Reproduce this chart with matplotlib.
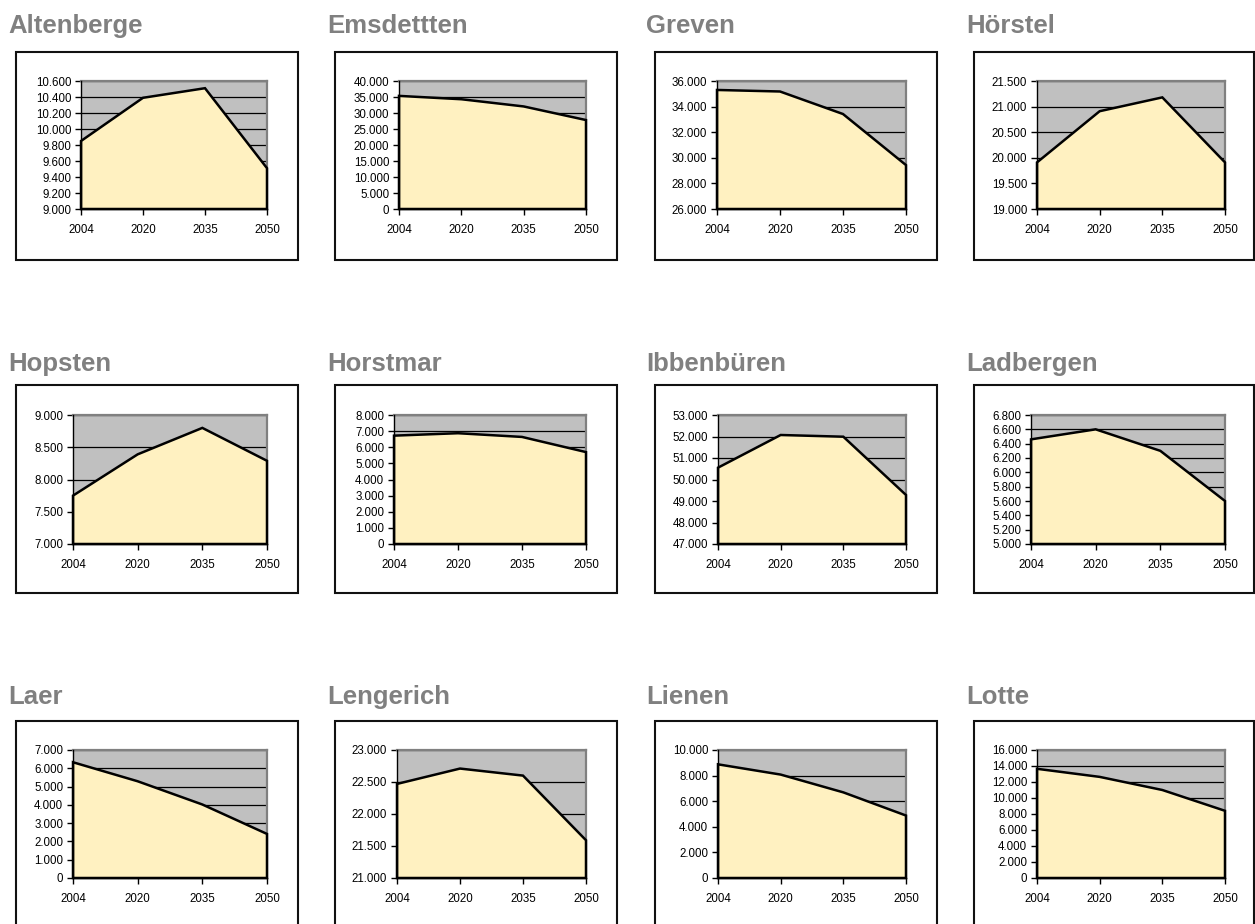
import matplotlib
matplotlib.use('Agg')
import numpy as np
from matplotlib import pyplot as plt
from matplotlib.patches import Rectangle
from matplotlib.ticker import FuncFormatter, MultipleLocator

plt.rcParams['font.family'] = ['Liberation Sans', 'DejaVu Sans']

W, H = 1255, 924

years = ['2004', '2020', '2035', '2050']

towns = ['Altenberge', 'Emsdettten', 'Greven', 'Hörstel',
         'Hopsten', 'Horstmar', 'Ibbenbüren', 'Ladbergen',
         'Laer', 'Lengerich', 'Lienen', 'Lotte']

altenberge = [9850, 10390, 10510, 9510]
emsdettten = [35350, 34300, 32050, 27800]
greven = [35300, 35180, 33420, 29430]
hoerstel = [19910, 20910, 21180, 19910]
hopsten = [7750, 8390, 8800, 8290]
horstmar = [6720, 6870, 6640, 5700]
ibbenbueren = [50550, 52070, 51990, 49280]
ladbergen = [6460, 6600, 6300, 5600]
laer = [6330, 5290, 4020, 2410]
lengerich = [22470, 22710, 22600, 21590]
lienen = [8880, 8080, 6690, 4880]
lotte = [13650, 12640, 11000, 8400]

series = [altenberge, emsdettten, greven, hoerstel,
          hopsten, horstmar, ibbenbueren, ladbergen,
          laer, lengerich, lienen, lotte]

# y axis (min, max, step) for each town
y_min = [9000, 0, 26000, 19000, 7000, 0, 47000, 5000, 0, 21000, 0, 0]
y_max = [10600, 40000, 36000, 21500, 9000, 8000, 53000, 6800, 7000, 23000, 10000, 16000]
y_step = [200, 5000, 2000, 500, 500, 1000, 1000, 200, 1000, 500, 2000, 2000]

# layout in pixels
box_left = [16, 335, 655, 974]
box_right = [298, 617, 937, 1254]
box_top = [52, 385, 721]
box_h = 208
title_x = [8, 327, 646, 966]
title_base = [33, 371, 704]
plot_right = [267, 586, 906, 1225]
plot_left = [81, 399, 717, 1037,
             73, 394, 718, 1031,
             73, 397, 718, 1037]
plot_top = [81, 415, 750]
plot_bottom = [209, 544, 878]

fill_col = '#FFF1C1'
back_col = '#C0C0C0'
title_col = '#808080'


def fmt(v, pos):
    return f'{int(round(v)):,}'.replace(',', '.')


fig = plt.figure(figsize=(W / 100, H / 100), dpi=100)
fig.patch.set_facecolor('white')

for i, name in enumerate(towns):
    r, c = divmod(i, 4)

    # frame around each chart
    fig.add_artist(Rectangle((box_left[c] / W, 1 - (box_top[r] + box_h) / H),
                             (box_right[c] - box_left[c]) / W, box_h / H,
                             transform=fig.transFigure, fill=False,
                             ec='#111111', lw=1.5))
    fig.text(title_x[c] / W, 1 - title_base[r] / H, name, ha='left', va='baseline',
             fontsize=18.5, fontweight='bold', color=title_col)

    x0 = plot_left[i] / W
    y0 = 1 - plot_bottom[r] / H
    ax = fig.add_axes([x0, y0, plot_right[c] / W - x0, (plot_bottom[r] - plot_top[r]) / H])
    ax.set_facecolor(back_col)

    vals = series[i]
    lo, hi = y_min[i], y_max[i]
    xs = np.arange(len(years))
    px = np.concatenate([[0], xs, [xs[-1]]])
    py = np.concatenate([[lo], vals, [lo]])
    ax.fill(px, py, facecolor=fill_col, edgecolor='black', lw=1.8,
            joinstyle='miter', zorder=3, clip_on=False)

    ax.set_xlim(0, len(years) - 1)
    ax.set_ylim(lo, hi)
    ax.yaxis.set_major_locator(MultipleLocator(y_step[i]))
    ax.yaxis.set_major_formatter(FuncFormatter(fmt))
    ax.set_xticks(xs)
    ax.set_xticklabels(years)
    ax.grid(axis='y', color='black', lw=0.9)
    ax.set_axisbelow(True)

    for side in ('top', 'right'):
        ax.spines[side].set_color('#808080')
        ax.spines[side].set_linewidth(1.6)
    for side in ('left', 'bottom'):
        ax.spines[side].set_color('black')
        ax.spines[side].set_linewidth(1.0)
        ax.spines[side].set_zorder(4)

    ax.tick_params(axis='both', direction='out', length=4, width=1,
                   labelsize=8.3, colors='black', pad=3)
    ax.tick_params(axis='x', pad=7)

fig.savefig('out.png', dpi=100)
